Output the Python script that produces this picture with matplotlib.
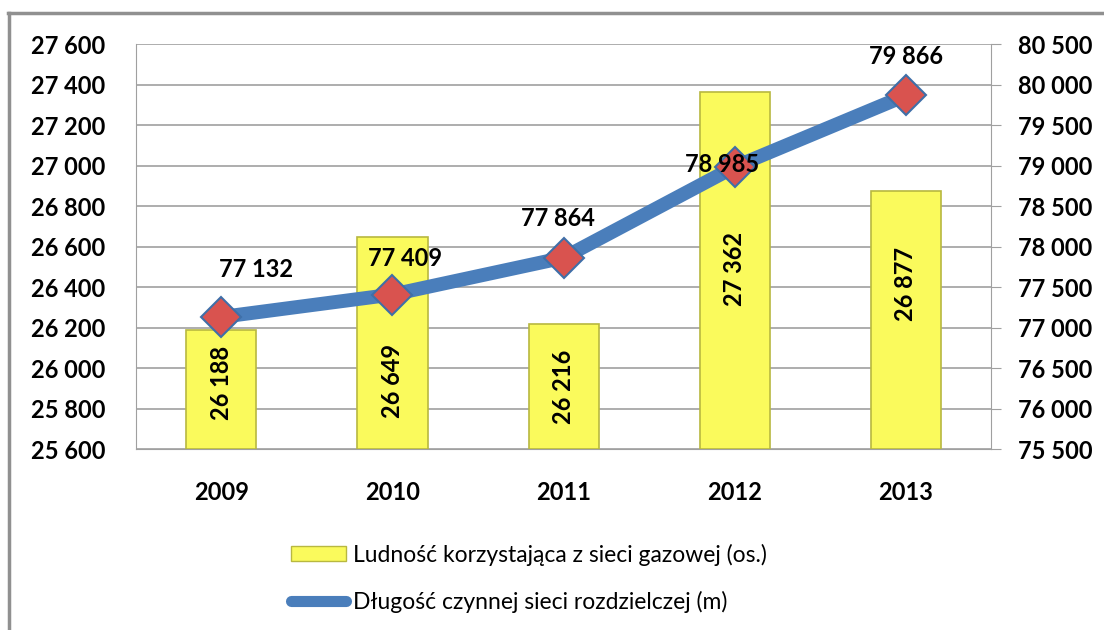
import matplotlib.pyplot as plt
from matplotlib.lines import Line2D
from matplotlib.patches import Patch

years = ["2009", "2010", "2011", "2012", "2013"]
population = [26188, 26649, 26216, 27362, 26877]
network_length = [77132, 77409, 77864, 78985, 79866]

bar_name = "Ludność korzystająca z sieci gazowej (os.)"
line_name = "Długość czynnej sieci rozdzielczej (m)"

# label nudges in points (x, y)
bar_label_shift = [5, -27, 0, 1, 26]
line_label_shift = [(25, 34), (9, 26), (-4, 28), (-9, 2), (0, 28)]

plt.rcParams["font.family"] = ["Lato", "DejaVu Sans"]


def fmt(v):
    return f"{v:,.0f}".replace(",", " ")


fig = plt.figure(figsize=(11.04, 6.3), dpi=100)
fig.patch.set_facecolor("white")

ax = fig.add_axes([0.123, 0.287, 0.775, 0.643])
ax2 = ax.twinx()

x = list(range(len(years)))

# bars (primary axis)
ax.bar(
    x,
    [p - 25600 for p in population],
    bottom=25600,
    width=0.41,
    color="#FAFA5C",
    edgecolor="#B8B840",
    linewidth=1.2,
    zorder=3,
)
for i, p in enumerate(population):
    ax.annotate(
        fmt(p),
        xy=(i, (p + 25600) / 2),
        xytext=(0, bar_label_shift[i]),
        textcoords="offset points",
        rotation=90,
        ha="center",
        va="center",
        fontsize=17,
        fontweight="bold",
        zorder=5,
    )

ax.set_xlim(-0.5, 4.5)
ax.set_ylim(25600, 27600)
ax.set_yticks(range(25600, 27601, 200))
ax.set_yticklabels([fmt(v) for v in range(25600, 27601, 200)])
ax.set_xticks(x)
ax.set_xticklabels(years)
ax.grid(axis="y", color="#A0A0A0", linewidth=1.2, zorder=0)
ax.set_axisbelow(True)
ax.tick_params(axis="y", length=0, pad=22, labelsize=17)
ax.tick_params(axis="x", length=0, pad=23, labelsize=17)
for lab in ax.get_xticklabels() + ax.get_yticklabels():
    lab.set_fontweight("bold")

for s in ["top", "right"]:
    ax.spines[s].set_visible(False)
ax.spines["left"].set_color("#A0A0A0")
ax.spines["bottom"].set_color("#A0A0A0")

# line (secondary axis)
ax2.plot(
    x,
    network_length,
    color="#4A7EBB",
    linewidth=10,
    solid_capstyle="round",
    zorder=4,
)
ax2.plot(
    x,
    network_length,
    linestyle="none",
    marker="D",
    markersize=20,
    markerfacecolor="#D9534F",
    markeredgecolor="#3F6FA8",
    markeredgewidth=1.5,
    zorder=5,
)
for i, v in enumerate(network_length):
    dx, dy = line_label_shift[i]
    ax2.annotate(
        fmt(v),
        xy=(i, v),
        xytext=(dx, dy),
        textcoords="offset points",
        ha="center",
        va="center",
        fontsize=17,
        fontweight="bold",
        zorder=6,
    )

ax2.set_ylim(75500, 80500)
ax2.set_yticks(range(75500, 80501, 500))
ax2.set_yticklabels([fmt(v) for v in range(75500, 80501, 500)])
ax2.tick_params(axis="y", length=7, color="#A0A0A0", pad=12, labelsize=17)
for lab in ax2.get_yticklabels():
    lab.set_fontweight("bold")
for s in ["top", "left", "bottom"]:
    ax2.spines[s].set_visible(False)
ax2.spines["right"].set_color("#A0A0A0")

# legend below the plot
handles = [
    Patch(facecolor="#FAFA5C", edgecolor="#B8B840", label=bar_name),
    Line2D([0], [0], color="#4A7EBB", linewidth=8,
           solid_capstyle="round", label=line_name),
]
fig.legend(
    handles=handles,
    loc="upper left",
    bbox_to_anchor=(0.245, 0.17),
    frameon=False,
    fontsize=16.5,
    labelspacing=1.1,
    handlelength=2.4,
    handleheight=0.6,
    handletextpad=0.3,
)

# outer chart border (top and left edges visible)
fig.add_artist(Line2D([0.0075, 1.0], [0.979, 0.979],
                      color="#909090", linewidth=2.5,
                      transform=fig.transFigure))
fig.add_artist(Line2D([0.0085, 0.0085], [0.0, 0.979],
                      color="#909090", linewidth=2.5,
                      transform=fig.transFigure))

fig.savefig("out.png", dpi=100)
